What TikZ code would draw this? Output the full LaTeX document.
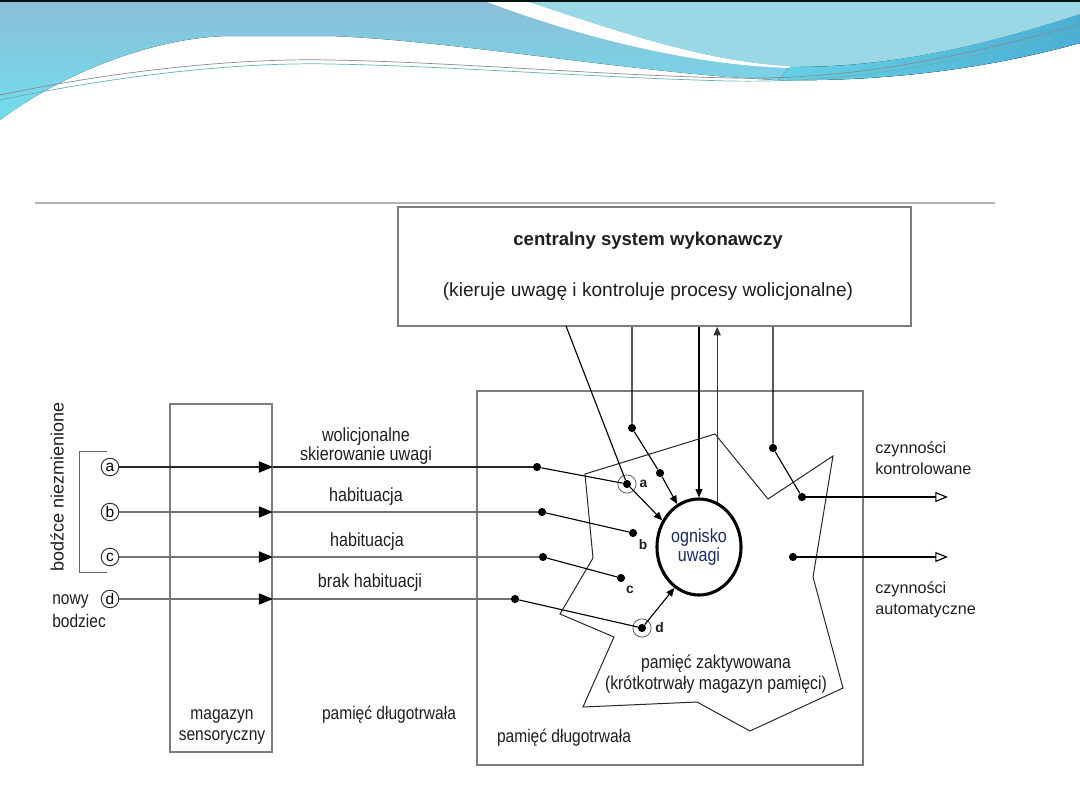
\documentclass[tikz,border=0pt]{standalone}
\usepackage{fontspec}
\setmainfont[FakeStretch=0.85]{Liberation Sans}
\newfontfamily\widesf{Liberation Sans}
\usetikzlibrary{arrows.meta,positioning,shapes.geometric,calc}
\definecolor{boxgray}{RGB}{125,125,125}
\definecolor{ink}{RGB}{30,30,35}
\definecolor{focusblue}{RGB}{30,45,95}
\definecolor{waveA}{RGB}{140,190,215}
\definecolor{waveAlow}{RGB}{112,222,238}
\definecolor{waveB}{RGB}{153,216,228}
\definecolor{waveband}{RGB}{75,175,212}

\begin{document}
\begin{tikzpicture}[x=0.025cm, y=-0.025cm,
  box/.style={rectangle, draw=boxgray, line width=1.2pt, fill=white, inner sep=0pt},
  lbl/.style={font=\fontsize{13.5}{14}\selectfont, text=ink, align=center, inner sep=0pt},
  widelbl/.style={lbl, font=\widesf\fontsize{11.5}{15}\selectfont},
  stim/.style={circle, draw=black!80, line width=0.7pt, fill=white, inner sep=0pt,
               minimum size=12.5pt, font=\widesf\fontsize{11}{11}\selectfont},
  dot/.style={circle, fill=black, inner sep=0pt, minimum size=5.8pt},
  ring/.style={circle, draw=black!70, line width=0.5pt, inner sep=0pt, minimum size=13pt},
  tag/.style={font=\widesf\bfseries\fontsize{9.8}{10}\selectfont, text=ink, inner sep=0pt},
  chan/.style={draw=black!55, line width=0.8pt},
  link/.style={draw=black, line width=0.8pt},
  inarrow/.style={-{Triangle[length=6pt,width=5pt]}},
  outarrow/.style={-{Triangle[open,length=9pt,width=7pt]}},
  sensarrow/.style={-{Triangle[length=10pt,width=8pt,color=black]}}
]
\useasboundingbox (0,0) rectangle (1080,810);

% slide decoration
\fill[top color=waveA, bottom color=waveAlow]
  (0,0) -- (1080,0) -- (1080,43) .. controls (1000,65) and (900,82) .. (778,80)
  .. controls (650,75) and (450,40) .. (330,36) -- (227,36)
  .. controls (150,38) and (60,75) .. (0,120) -- cycle;
\fill[left color=waveAlow!70!waveband, right color=waveband]
  (790,67) .. controls (900,68) and (1000,40) .. (1080,14) -- (1080,43)
  .. controls (1000,65) and (900,82) .. (778,80) -- cycle;
\fill[white] (482,0) .. controls (560,30) and (680,65) .. (790,68) -- (790,66)
  .. controls (700,62) and (600,25) .. (523,0) -- cycle;
\fill[waveB] (523,0) .. controls (600,25) and (700,62) .. (790,66)
  .. controls (900,68) and (1000,40) .. (1080,14) -- (1080,0) -- cycle;
\draw[black!45, line width=0.5pt] (0,95) .. controls (120,70) and (240,58) .. (330,60)
  .. controls (450,62) and (600,75) .. (730,78) .. controls (850,80) and (950,60) .. (1080,24);
\draw[teal!60, line width=0.5pt] (0,100) .. controls (120,75) and (240,62) .. (330,64)
  .. controls (450,66) and (600,78) .. (730,81) .. controls (850,83) and (950,65) .. (1080,30);
\draw[black!85!teal, line width=1.5pt] (0,1) -- (1080,1);
\draw[black!30, line width=1.5pt] (35,203) -- (995,203);

% boxes
\node[box, minimum width=9.65cm, minimum height=9.35cm] (ltm) at (670,578) {};
\node[box, minimum width=2.55cm, minimum height=8.7cm] (sens) at (221,578) {};
\node[box, minimum width=12.825cm, minimum height=2.975cm] (ce) at (654.5,266.5) {};
\node[lbl, font=\widesf\bfseries\fontsize{13.2}{15}\selectfont] at (648,241) {centralny system wykonawczy};
\node[lbl, font=\widesf\fontsize{13.6}{15}\selectfont] at (648,292) {(kieruje uwagę i kontroluje procesy wolicjonalne)};

% activated memory
\draw[draw=black!85, line width=0.7pt] (585,474) -- (715,434) -- (768,499) -- (833,456) -- (813,577) -- (843,688)
  -- (750,731) -- (697,702) -- (583,707) -- (614,637) -- (560,614) -- (593,558) -- cycle;
\node[ellipse, draw=black, line width=2.2pt, minimum width=2.1cm, minimum height=2.4cm,
      lbl, font=\fontsize{13.5}{13}\selectfont, text=focusblue] (og) at (699,547) {ognisko\\uwagi};

% stimuli
\node[stim] (sa) at (110,467) {a};
\node[stim] (sb) at (110,512) {b};
\node[stim] (sc) at (110,557) {c};
\node[stim] (sd) at (110,599) {d};
\draw[draw=black!60, line width=0.7pt] (107,451) -- (79,451) -- (79,572) -- (107,572);
\node[lbl, rotate=90, font=\widesf\fontsize{12.8}{14}\selectfont] at (57,487) {bodźce niezmienione};
\node[lbl, align=left, anchor=west, font=\fontsize{13}{16}\selectfont] at (52,611) {nowy\\bodziec};

% entry dots and inner dots
\node[dot] (ea) at (537,467) {};
\node[dot] (eb) at (542,512) {};
\node[dot] (ec) at (543,557) {};
\node[dot] (ed) at (515,599) {};
\node[ring] (ra) at (627,484) {};
\node[dot] (ma) at (ra) {};
\node[dot] (mb) at (633,533) {};
\node[dot] (mc) at (621,578) {};
\node[ring] (rd) at (642,628) {};
\node[dot] (md) at (rd) {};
\node[tag, right=2pt of ra] {a};
\node[tag] at ($(mb)+(10,12)$) {b};
\node[tag] at ($(mc)+(9,12)$) {c};
\node[tag, right=2.5pt of rd] {d};

% channels through sensory store
\draw[draw=black!85, line width=0.9pt, sensarrow] (sa) -- (sa -| sens.east);
\draw[draw=black!85, line width=0.9pt] (sa -| sens.east) -- (ea);
\foreach \s/\e in {sb/eb, sc/ec, sd/ed} {
  \draw[chan, sensarrow] (\s) -- (\s -| sens.east);
  \draw[chan] (\s -| sens.east) -- (\e);
}
\draw[link] (ea) -- (ma);
\draw[link] (eb) -- (mb);
\draw[link] (ec) -- (mc);
\draw[link] (ed) -- (md);
\node[lbl] at (366,446) {wolicjonalne\\skierowanie uwagi};
\node[lbl] at (366,497) {habituacja};
\node[lbl] at (367,542) {habituacja};
\node[lbl] at (370,583) {brak habituacji};

% executive links
\coordinate (vol) at (566,326);
\node[dot] (qa) at (632,428) {};
\node[dot] (qb) at (660,473) {};
\node[dot] (ka) at (773,448) {};
\node[dot] (kb) at (802,497) {};
\node[dot] (au) at (793,557) {};
\coordinate (outk) at (948,497);
\coordinate (outa) at (948,557);
\draw[link] (vol) -- (ma);
\draw[link] (qa |- ce.south) -- (qa) -- (qb);
\draw[link, inarrow] (qb) -- (og.117);
\draw[link, inarrow] (ma) -- (og.144);
\draw[link, inarrow] (md) -- (og.239);
\draw[draw=black, line width=0.9pt, inarrow] (og.north |- ce.south) -- (og.north);
\draw[draw=black!80, line width=0.8pt, inarrow] (og.68) -- (og.68 |- ce.south);
\draw[link] (ka |- ce.south) -- (ka) -- (kb);
\draw[link, outarrow] (kb) -- (outk);
\draw[link, outarrow] (au) -- (outa);

% texts
\node[widelbl, align=left, anchor=west] at (875,458) {czynności\\kontrolowane};
\node[widelbl, align=left, anchor=west] at (875,600) {czynności\\automatyczne};
\node[lbl, font=\fontsize{13.2}{15.5}\selectfont] at (716,674) {pamięć zaktywowana\\(krótkotrwały magazyn pamięci)};
\node[lbl, font=\fontsize{13}{15}\selectfont] at (222,727) {magazyn\\sensoryczny};
\node[lbl, font=\fontsize{13}{15}\selectfont] at (389,715) {pamięć długotrwała};
\node[lbl, font=\fontsize{13}{15}\selectfont] at (564,738) {pamięć długotrwała};
\end{tikzpicture}
\end{document}
